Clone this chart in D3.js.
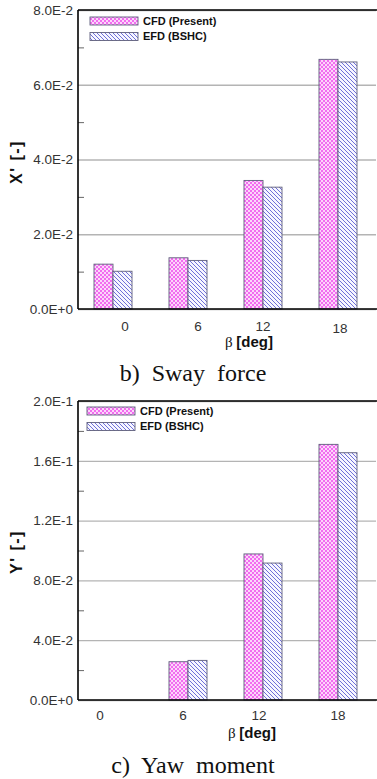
<!DOCTYPE html>
<html>
<head>
<meta charset="utf-8">
<script src="https://cdn.jsdelivr.net/npm/d3@7"></script>
<style>
  html, body { margin: 0; padding: 0; background: #fff; }
  svg { display: block; }
</style>
</head>
<body>
<script>
// Shared categories and series
const categories = ["0", "6", "12", "18"];
const seriesNames = ["CFD (Present)", "EFD (BSHC)"];

// b) Sway force, X'
const swayCFD = [0.0120, 0.0137, 0.0344, 0.0668];
const swayEFD = [0.0101, 0.0130, 0.0326, 0.0661];
const swayTickValues = [0, 0.02, 0.04, 0.06, 0.08];
const swayTickLabels = ["0.0E+0", "2.0E-2", "4.0E-2", "6.0E-2", "8.0E-2"];
const swayMinor = [0.01, 0.03, 0.05, 0.07];

// c) Yaw moment, Y'
const yawCFD = [0, 0.0256, 0.0977, 0.1710];
const yawEFD = [0, 0.0265, 0.0916, 0.1654];
const yawTickValues = [0, 0.04, 0.08, 0.12, 0.16, 0.20];
const yawTickLabels = ["0.0E+0", "4.0E-2", "8.0E-2", "1.2E-1", "1.6E-1", "2.0E-1"];
const yawMinor = [0.02, 0.06, 0.10, 0.14, 0.18];

const W = 377, H = 779;
const svg = d3.select("body").append("svg").attr("width", W).attr("height", H);

// Fill patterns: magenta checker and blue diagonal hatch
const defs = svg.append("defs");
const chk = defs.append("pattern").attr("id", "pCFD")
  .attr("patternUnits", "userSpaceOnUse").attr("width", 4).attr("height", 4);
chk.append("rect").attr("width", 4).attr("height", 4).attr("fill", "#fcd6fa");
chk.append("rect").attr("x", 0).attr("y", 0).attr("width", 2).attr("height", 2).attr("fill", "#f26cf0");
chk.append("rect").attr("x", 2).attr("y", 2).attr("width", 2).attr("height", 2).attr("fill", "#f26cf0");

const hat = defs.append("pattern").attr("id", "pEFD")
  .attr("patternUnits", "userSpaceOnUse").attr("width", 4).attr("height", 4);
hat.append("rect").attr("width", 4).attr("height", 4).attr("fill", "#f6f6ff");
hat.append("path").attr("d", "M-1,-1 L5,5 M3,-1 L5,1 M-1,3 L1,5")
  .attr("stroke", "#7070d8").attr("stroke-width", 1.0);

const fills = ["url(#pCFD)", "url(#pEFD)"];

function drawPanel(opt) {
  const left = 78, right = 376;
  const g = svg.append("g");

  const y = d3.scaleLinear().domain([0, opt.yMax]).range([opt.base, opt.top]);
  const x = d3.scaleBand().domain(categories).range([75.5, 375.5])
    .paddingInner(0.4933).paddingOuter(0.2467);
  const xs = d3.scaleBand().domain(seriesNames).range([0, x.bandwidth()]);

  // gridlines at major ticks
  g.append("g").attr("transform", `translate(${left},0)`)
    .call(d3.axisLeft(y).tickValues(opt.ticks).tickSize(-(right - left)).tickFormat(""))
    .call(a => a.select(".domain").remove())
    .call(a => a.selectAll("line").attr("stroke", "#b4b4b4").attr("stroke-width", 1.3));

  // minor ticks pointing inward
  g.append("g").attr("transform", `translate(${left},0)`)
    .call(d3.axisRight(y).tickValues(opt.minor).tickSize(6).tickFormat(""))
    .call(a => a.select(".domain").remove())
    .call(a => a.selectAll("line").attr("stroke", "#666").attr("stroke-width", 1));

  // bars
  const rows = categories.map((c, i) => ({ c, v: [opt.cfd[i], opt.efd[i]] }));
  const grp = g.selectAll(".grp").data(rows).join("g")
    .attr("transform", d => `translate(${x(d.c)},0)`);
  grp.selectAll("rect")
    .data(d => d.v.map((v, k) => ({ s: seriesNames[k], v, k })).filter(e => e.v > 0))
    .join("rect")
    .attr("x", e => xs(e.s))
    .attr("y", e => y(e.v))
    .attr("width", xs.bandwidth())
    .attr("height", e => y(0) - y(e.v))
    .attr("fill", e => fills[e.k])
    .attr("stroke", "#5e5e7c").attr("stroke-width", 0.9);

  // y tick labels
  g.append("g").attr("transform", `translate(${left},0)`)
    .call(d3.axisLeft(y).tickValues(opt.ticks).tickSize(0).tickPadding(5)
      .tickFormat((d, i) => opt.tickLabels[i]))
    .call(a => a.select(".domain").remove())
    .call(a => a.selectAll("text").attr("font-family", "Liberation Sans, Arial, sans-serif")
      .attr("font-size", 13.5).attr("fill", "#333"));

  // x tick labels
  g.append("g").attr("transform", `translate(0,${opt.base})`)
    .call(d3.axisBottom(x).tickSize(0).tickPadding(opt.xPad))
    .call(a => a.select(".domain").remove())
    .call(a => a.selectAll("text").attr("font-family", "Liberation Sans, Arial, sans-serif")
      .attr("font-size", 13.5).attr("fill", "#333")
      .attr("transform", (d, i) => `translate(${opt.nudgeX[i]},${opt.nudgeY[i]})`));

  // frame: left axis, baseline, top border
  g.append("line").attr("x1", left).attr("x2", left).attr("y1", opt.top).attr("y2", opt.base)
    .attr("stroke", "#000").attr("stroke-width", 1.6);
  g.append("line").attr("x1", left).attr("x2", W).attr("y1", opt.base).attr("y2", opt.base)
    .attr("stroke", "#000").attr("stroke-width", 1.6);
  g.append("line").attr("x1", left).attr("x2", W).attr("y1", opt.top).attr("y2", opt.top)
    .attr("stroke", "#000").attr("stroke-width", 1.6);

  // legend
  seriesNames.forEach((s, k) => {
    const ly = opt.legY + k * 15.5;
    g.append("rect").attr("x", opt.legX).attr("y", ly).attr("width", 48).attr("height", 8)
      .attr("fill", fills[k]).attr("stroke", "#5e5e7c").attr("stroke-width", 0.9);
    g.append("text").attr("x", opt.legX + 53).attr("y", ly + 4).attr("dy", "0.36em")
      .attr("font-family", "Liberation Sans, Arial, sans-serif").attr("font-weight", "bold")
      .attr("font-size", 11).attr("fill", "#111").text(s);
  });

  // y axis title
  g.append("text").attr("transform", `translate(16,${opt.yTitleY}) rotate(-90)`)
    .attr("text-anchor", "middle").attr("dy", "0.36em")
    .attr("font-family", "Liberation Sans, Arial, sans-serif").attr("font-weight", "bold")
    .attr("font-size", 16).attr("letter-spacing", 1.5).attr("fill", "#111").text(opt.yTitle);

  // x axis title
  const xt = g.append("text").attr("x", opt.xTitleX).attr("y", opt.xTitleY)
    .attr("text-anchor", "middle").attr("fill", "#111").attr("font-size", 15);
  xt.append("tspan").attr("font-family", "Liberation Serif, Times New Roman, serif").text("β ");
  xt.append("tspan").attr("font-family", "Liberation Sans, Arial, sans-serif")
    .attr("font-weight", "bold").text("[deg]");

  // caption
  g.append("text").attr("x", 193).attr("y", opt.capY).attr("text-anchor", "middle")
    .attr("font-family", "Liberation Serif, Times New Roman, serif").attr("font-size", 24)
    .attr("word-spacing", 6).attr("fill", "#111").text(opt.caption);
}

drawPanel({
  top: 10, base: 309, yMax: 0.08,
  cfd: swayCFD, efd: swayEFD,
  ticks: swayTickValues, tickLabels: swayTickLabels, minor: swayMinor,
  xPad: 12, nudgeX: [12, 10, 0, 2], nudgeY: [0, 0, 0, 2],
  legX: 90, legY: 17,
  yTitle: "X' [-]", yTitleY: 162,
  xTitleX: 249, xTitleY: 347,
  caption: "b)  Sway force", capY: 381
});

drawPanel({
  top: 401, base: 700, yMax: 0.20,
  cfd: yawCFD, efd: yawEFD,
  ticks: yawTickValues, tickLabels: yawTickLabels, minor: yawMinor,
  xPad: 10, nudgeX: [-13, -5, -4, 0], nudgeY: [0, 0, 0, 0],
  legX: 87, legY: 407,
  yTitle: "Y' [-]", yTitleY: 552,
  xTitleX: 252, xTitleY: 738,
  caption: "c)  Yaw moment", capY: 773
});
</script>
</body>
</html>
